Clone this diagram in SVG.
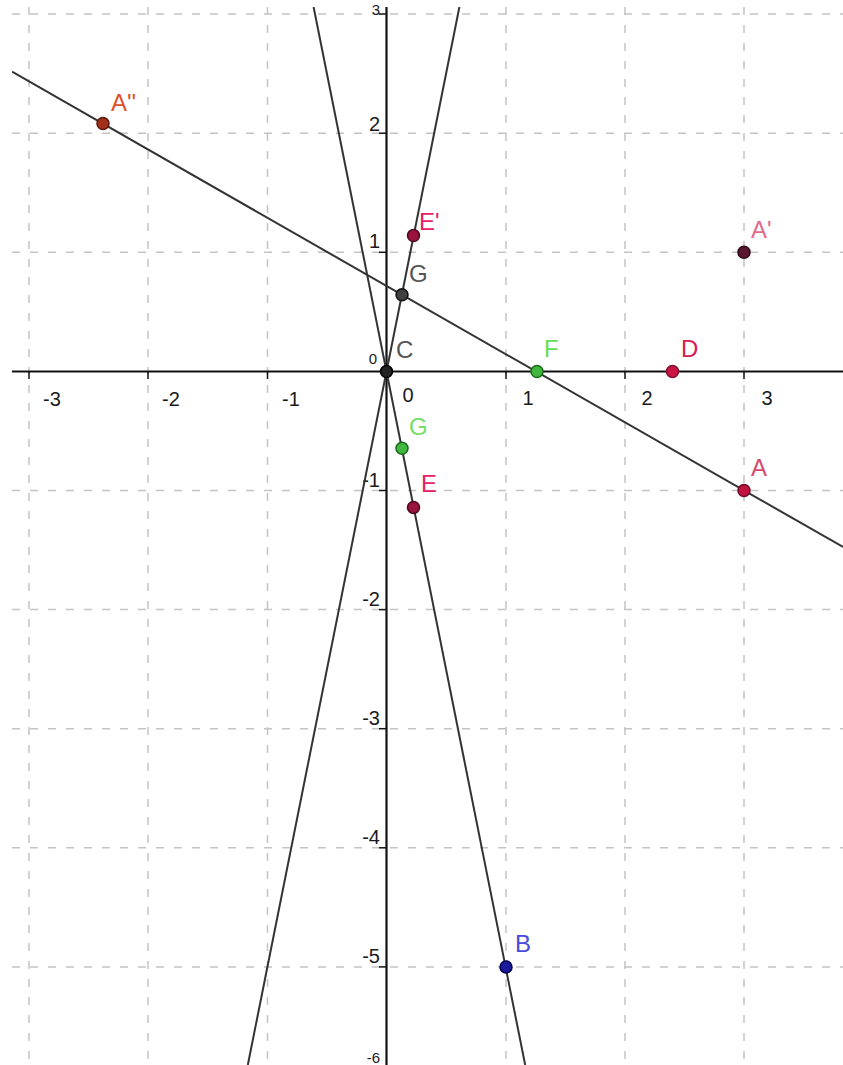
<svg xmlns="http://www.w3.org/2000/svg" width="843" height="1065" viewBox="0 0 843 1065">
<defs>
<style>
.grid{stroke:#c4c4c4;stroke-width:1.5;stroke-dasharray:8 10;fill:none}
.axis{stroke:#111;stroke-width:2.2;fill:none}
.tick{stroke:#111;stroke-width:1.5}
.ln{stroke:#333;stroke-width:2;fill:none}
.tl{font-family:"Liberation Sans",Arial,sans-serif;font-size:20px;fill:#1a1a1a}
.pl{font-family:"Liberation Sans",Arial,sans-serif;font-size:24px}
.pt{stroke-width:1.5}
</style>
<clipPath id="plot"><rect x="12" y="7" width="831" height="1058"/></clipPath>
</defs>
<rect width="843" height="1065" fill="#fff"/>
<g id="grid" clip-path="url(#plot)">
<line class="grid" x1="29" y1="7" x2="29" y2="1065"/>
<line class="grid" x1="148" y1="7" x2="148" y2="1065"/>
<line class="grid" x1="267.5" y1="7" x2="267.5" y2="1065"/>
<line class="grid" x1="506" y1="7" x2="506" y2="1065"/>
<line class="grid" x1="625" y1="7" x2="625" y2="1065"/>
<line class="grid" x1="744" y1="7" x2="744" y2="1065"/>
<line class="grid" x1="12" y1="14" x2="843" y2="14"/>
<line class="grid" x1="12" y1="133.2" x2="843" y2="133.2"/>
<line class="grid" x1="12" y1="252.3" x2="843" y2="252.3"/>
<line class="grid" x1="12" y1="490.5" x2="843" y2="490.5"/>
<line class="grid" x1="12" y1="609.6" x2="843" y2="609.6"/>
<line class="grid" x1="12" y1="728.7" x2="843" y2="728.7"/>
<line class="grid" x1="12" y1="847.8" x2="843" y2="847.8"/>
<line class="grid" x1="12" y1="966.9" x2="843" y2="966.9"/>
</g>
<g id="axes">
<line class="axis" x1="12" y1="371.5" x2="843" y2="371.5"/>
<line class="axis" x1="386.5" y1="7" x2="386.5" y2="1065"/>
<g class="tick">
<line x1="29" y1="371.5" x2="29" y2="379"/>
<line x1="148" y1="371.5" x2="148" y2="379"/>
<line x1="267.5" y1="371.5" x2="267.5" y2="379"/>
<line x1="506" y1="371.5" x2="506" y2="379"/>
<line x1="625" y1="371.5" x2="625" y2="379"/>
<line x1="744" y1="371.5" x2="744" y2="379"/>
<line x1="379" y1="14" x2="386.5" y2="14"/>
<line x1="379" y1="133.2" x2="386.5" y2="133.2"/>
<line x1="379" y1="252.3" x2="386.5" y2="252.3"/>
<line x1="379" y1="490.5" x2="386.5" y2="490.5"/>
<line x1="379" y1="609.6" x2="386.5" y2="609.6"/>
<line x1="379" y1="728.7" x2="386.5" y2="728.7"/>
<line x1="379" y1="847.8" x2="386.5" y2="847.8"/>
<line x1="379" y1="966.9" x2="386.5" y2="966.9"/>
</g>
<g class="tl">
<text x="43" y="406">-3</text>
<text x="162" y="406">-2</text>
<text x="282" y="406">-1</text>
<text x="408" y="402" text-anchor="middle">0</text>
<text x="528" y="405" text-anchor="middle">1</text>
<text x="647" y="405" text-anchor="middle">2</text>
<text x="767" y="405" text-anchor="middle">3</text>
<text x="380" y="15" text-anchor="end" font-size="15">3</text>
<text x="380" y="131" text-anchor="end">2</text>
<text x="380" y="248" text-anchor="end">1</text>
<text x="377" y="364" text-anchor="end" font-size="15">0</text>
<text x="380" y="487" text-anchor="end">-1</text>
<text x="380" y="606" text-anchor="end">-2</text>
<text x="380" y="725" text-anchor="end">-3</text>
<text x="380" y="844" text-anchor="end">-4</text>
<text x="380" y="963" text-anchor="end">-5</text>
<text x="380" y="1063" text-anchor="end" font-size="15">-6</text>
</g>
</g>
<g id="connectors" clip-path="url(#plot)">
<line id="line1" class="ln" x1="12" y1="71.7" x2="843" y2="547"/>
<line id="line2" class="ln" x1="459.4" y1="7" x2="247.8" y2="1065"/>
<line id="line3" class="ln" x1="313.6" y1="7" x2="525.2" y2="1065"/>
</g>
<g id="node-A2">
<circle class="pt" cx="103" cy="123.5" r="6" fill="#a03018" stroke="#5a1a0a"/>
<text class="pl" x="111" y="111" fill="#e0502a">A''</text>
</g>
<g id="node-E1">
<circle class="pt" cx="413.5" cy="235.6" r="6" fill="#99143c" stroke="#500a20"/>
<text class="pl" x="419" y="230" fill="#e8206a">E'</text>
</g>
<g id="node-G1">
<circle class="pt" cx="402" cy="294.7" r="6" fill="#404040" stroke="#111"/>
<text class="pl" x="409" y="282" fill="#555">G</text>
</g>
<g id="node-C">
<circle class="pt" cx="386.5" cy="371.5" r="6" fill="#222" stroke="#000"/>
<text class="pl" x="396" y="358" fill="#555">C</text>
</g>
<g id="node-F">
<circle class="pt" cx="537" cy="371.5" r="6" fill="#40b840" stroke="#1a6a1a"/>
<text class="pl" x="544" y="357" fill="#66dd55">F</text>
</g>
<g id="node-D">
<circle class="pt" cx="672.5" cy="371.5" r="6" fill="#cc1444" stroke="#801030"/>
<text class="pl" x="681" y="357" fill="#d42050">D</text>
</g>
<g id="node-A1">
<circle class="pt" cx="744" cy="252.3" r="6" fill="#5a1830" stroke="#300a18"/>
<text class="pl" x="751" y="238" fill="#e06a8a">A'</text>
</g>
<g id="node-A">
<circle class="pt" cx="744" cy="490.5" r="6" fill="#c01440" stroke="#700a25"/>
<text class="pl" x="751" y="476" fill="#d84868">A</text>
</g>
<g id="node-G2">
<circle class="pt" cx="402" cy="448.3" r="6" fill="#40b840" stroke="#1a6a1a"/>
<text class="pl" x="409" y="435" fill="#77dd66">G</text>
</g>
<g id="node-E">
<circle class="pt" cx="413.5" cy="507.4" r="6" fill="#99143c" stroke="#500a20"/>
<text class="pl" x="421" y="492" fill="#e8206a">E</text>
</g>
<g id="node-B">
<circle class="pt" cx="506" cy="966.9" r="6" fill="#1a1a9a" stroke="#000050"/>
<text class="pl" x="515" y="952" fill="#4a4ae0">B</text>
</g>
</svg>
